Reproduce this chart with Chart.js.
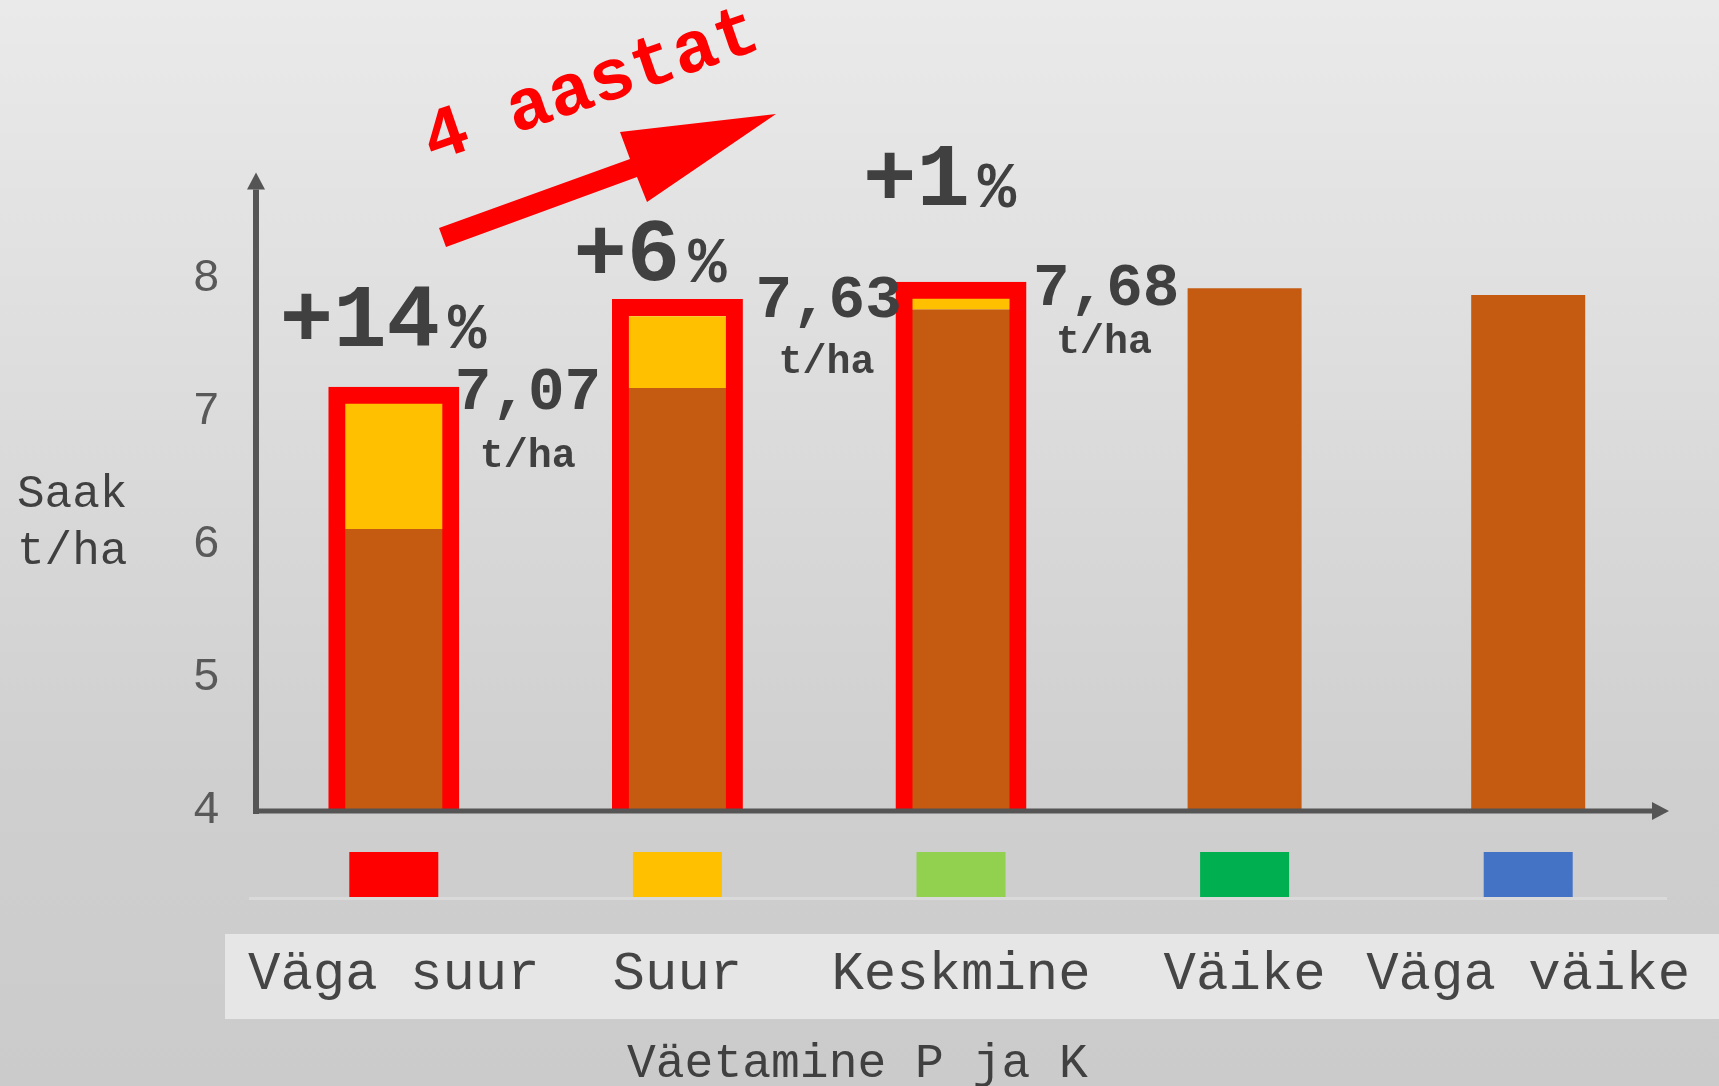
<!DOCTYPE html>
<html lang="et">
<head>
<meta charset="utf-8">
<title>Saak ja väetamine</title>
<script src="https://cdn.jsdelivr.net/npm/chart.js@4.4.1/dist/chart.umd.min.js"></script>
<style>
  html, body { margin: 0; padding: 0; }
  body { width: 1719px; height: 1086px; overflow: hidden; background: #dddddd; }
  #wrap { position: relative; width: 1719px; height: 1086px; }
</style>
</head>
<body>
<div id="wrap"><canvas id="chart"></canvas></div>
<script>
// andmed (t/ha)
const categories = ['Väga suur', 'Suur', 'Keskmine', 'Väike', 'Väga väike'];
const classColors = ['#FF0000', '#FFC000', '#92D050', '#00B050', '#4472C4'];
const baseYield = [6.12, 7.18, 7.77, 7.93, 7.88];   // pruun osa
const fertYield = [7.07, 7.72, 7.86, null, null];    // kollase osa ülaserv
const frameTop = [7.19, 7.85, 7.98, null, null];     // punane raam
const yTicks = [4, 5, 6, 7, 8];
const gainLabels = ['+14', '+6', '+1'];
const yieldLabels = ['7,07', '7,63', '7,68'];

// märkuste nihked raami ülaservast (px)
const gainPos = [[-114, -41], [-104, -19], [-98, -77]];
const yieldPos = [[61, 22], [78, 18], [72, 23]];
const unitPos = [[86, 80], [101, 74], [95, 71]];

const gain = fertYield.map((v, i) => v === null ? null : +(v - baseYield[i]).toFixed(2));

const FONT = "'Liberation Mono', 'DejaVu Sans Mono', monospace";
Chart.defaults.font.family = FONT;

const decor = {
  id: 'decor',
  beforeDraw(chart) {
    const { ctx, width, height, chartArea, scales } = chart;
    ctx.save();
    const g = ctx.createLinearGradient(0, 0, 0, height);
    g.addColorStop(0, '#eaeaea');
    g.addColorStop(0.72, '#cfcfcf');
    g.addColorStop(1, '#cbcbcb');
    ctx.fillStyle = g;
    ctx.fillRect(0, 0, width, height);

    // nimede kast
    ctx.fillStyle = '#e6e6e6';
    ctx.fillRect(chartArea.left - 27, chartArea.bottom + 123, width, 85);

    // klasside värvid
    categories.forEach((c, i) => {
      const cx = scales.x.getPixelForValue(i);
      ctx.fillStyle = classColors[i];
      ctx.fillRect(cx - 44.5, chartArea.bottom + 41, 89, 45);
    });
    ctx.fillStyle = '#dadada';
    ctx.fillRect(chartArea.left - 3, chartArea.bottom + 86, chartArea.right - chartArea.left, 3);
    ctx.restore();
  },
  afterDatasetsDraw(chart) {
    const { ctx, chartArea, scales } = chart;
    ctx.save();

    // teljed
    const y0 = scales.y.getPixelForValue(4);
    const x0 = chartArea.left + 4;
    ctx.strokeStyle = '#555555';
    ctx.fillStyle = '#555555';
    ctx.lineWidth = 6;
    ctx.beginPath();
    ctx.moveTo(x0, y0 + 3);
    ctx.lineTo(x0, chartArea.top + 17);
    ctx.stroke();
    ctx.beginPath();
    ctx.moveTo(x0 - 9, chartArea.top + 17);
    ctx.lineTo(x0 + 9, chartArea.top + 17);
    ctx.lineTo(x0, chartArea.top);
    ctx.fill();
    ctx.lineWidth = 5;
    ctx.beginPath();
    ctx.moveTo(x0 - 3, y0);
    ctx.lineTo(chartArea.right - 17, y0);
    ctx.stroke();
    ctx.beginPath();
    ctx.moveTo(chartArea.right - 18, y0 - 9);
    ctx.lineTo(chartArea.right - 18, y0 + 9);
    ctx.lineTo(chartArea.right - 1, y0);
    ctx.fill();

    // märkused
    const frames = chart.getDatasetMeta(0).data;
    ctx.fillStyle = '#404040';
    ctx.textAlign = 'left';
    ctx.textBaseline = 'alphabetic';
    gainLabels.forEach((t, i) => {
      const el = frames[i];
      const gx = el.x + gainPos[i][0], gy = el.y + gainPos[i][1];
      ctx.font = 'bold 89px ' + FONT;
      ctx.fillText(t, gx, gy);
      const w = ctx.measureText(t).width;
      ctx.font = 'bold 64px ' + FONT;
      ctx.fillText('%', gx + w + 8, gy + 2);

      ctx.font = 'bold 61px ' + FONT;
      ctx.fillText(yieldLabels[i], el.x + yieldPos[i][0], el.y + yieldPos[i][1]);
      ctx.font = 'bold 40px ' + FONT;
      ctx.fillText('t/ha', el.x + unitPos[i][0], el.y + unitPos[i][1]);
    });

    // telgede nimed
    ctx.font = '46px ' + FONT;
    ctx.fillText('Saak', 17, 507);
    ctx.fillText('t/ha', 17, 564);
    ctx.font = '48px ' + FONT;
    ctx.fillText('Väetamine P ja K', 627, 1077);

    // nool ja "4 aastat"
    ctx.fillStyle = '#FF0000';
    ctx.beginPath();
    ctx.moveTo(439, 228);
    ctx.lineTo(630, 159);
    ctx.lineTo(620, 132);
    ctx.lineTo(776, 114);
    ctx.lineTo(647, 202);
    ctx.lineTo(637, 177);
    ctx.lineTo(446, 247);
    ctx.closePath();
    ctx.fill();

    ctx.translate(432, 162);
    ctx.rotate(-19 * Math.PI / 180);
    ctx.font = 'bold 73px ' + FONT;
    ctx.fillText('4 aastat', 0, 0);
    ctx.restore();
  }
};

new Chart(document.getElementById('chart'), {
  type: 'bar',
  data: {
    labels: categories,
    datasets: [
      {
        label: 'raam',
        data: frameTop,
        stack: 'raam',
        grouped: false,
        backgroundColor: 'rgba(0,0,0,0)',
        borderColor: '#FF0000',
        borderWidth: 17,
        borderSkipped: false,
        barPercentage: 0.462,
        categoryPercentage: 1
      },
      {
        label: 'saak',
        data: baseYield,
        stack: 'saak',
        backgroundColor: '#C55A11',
        barPercentage: 0.402,
        categoryPercentage: 1
      },
      {
        label: 'lisa',
        data: gain,
        stack: 'saak',
        backgroundColor: '#FFC000',
        barPercentage: 0.402,
        categoryPercentage: 1
      }
    ]
  },
  options: {
    responsive: true,
    maintainAspectRatio: false,
    animation: false,
    events: [],
    layout: { padding: { top: 172.6, right: 49, left: 0, bottom: 0 } },
    plugins: {
      legend: { display: false },
      tooltip: { enabled: false }
    },
    scales: {
      x: {
        grid: { display: false, drawTicks: false },
        border: { display: false },
        ticks: { color: '#454545', font: { size: 54 }, padding: 131, maxRotation: 0, autoSkip: false },
        afterFit: s => { s.height = 275; s.paddingLeft = 0; s.paddingRight = 0; }
      },
      y: {
        stacked: true,
        min: 4,
        max: 8.8,
        grid: { display: false, drawTicks: false },
        border: { display: false },
        afterBuildTicks: s => { s.ticks = yTicks.map(v => ({ value: v })); },
        ticks: { color: '#595959', font: { size: 46 }, padding: 32 },
        afterFit: s => { s.width = 252; s.paddingTop = 0; s.paddingBottom = 0; }
      }
    }
  },
  plugins: [decor]
});
</script>
</body>
</html>
